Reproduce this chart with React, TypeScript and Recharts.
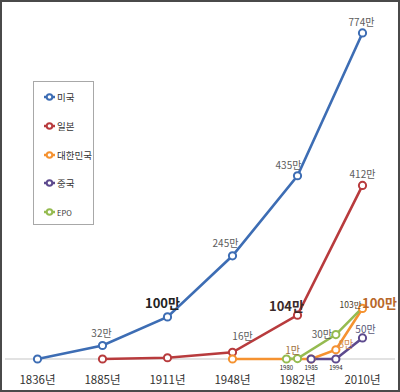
import { LineChart, Line, XAxis, YAxis, LabelList, CartesianGrid } from "recharts";

const years = ["1836년", "1885년", "1911년", "1948년", "1982년", "2010년"];

// x positions are category slots (0 = 1836 … 5 = 2010); in-between years sit at fractional slots
const usPos = [0, 1, 2, 3, 4, 5];
const usValues = [0, 32, 100, 245, 435, 774];
const usLabels = ["", "32만", "100만", "245만", "435만", "774만"];

const japanPos = [1, 2, 3, 4, 5];
const japanValues = [0, 3, 16, 104, 412];
const japanLabels = ["", "", "16만", "104만", "412만"];

const koreaPos = [3, 4.21, 4.59, 5];
const koreaValues = [0, 0, 22, 120];
const koreaLabels = ["", "", "8만", "100만"];

const epoPos = [3.83, 4, 4.59, 5];
const epoValues = [0, 1, 58, 122];
const epoLabels = ["", "1만", "30만", "103만"];
const epoSubYears = ["1980", "", "", ""];

const chinaPos = [4.21, 4.59, 5];
const chinaValues = [0, 0, 50];
const chinaLabels = ["", "", "50만"];
const chinaSubYears = ["1985", "1994", ""];

const FONT = '"Noto Sans CJK KR", "Noto Sans", sans-serif';

type Row = { x: number; v: number; label: string; sub: string };

const build = (pos: number[], vals: number[], labels: string[], subs?: string[]): Row[] =>
  pos.map((x, i) => ({ x, v: vals[i], label: labels[i], sub: subs ? subs[i] : "" }));

const series = [
  { key: "us", name: "미국", color: "#3d6db4", data: build(usPos, usValues, usLabels) },
  { key: "jp", name: "일본", color: "#b83b3d", data: build(japanPos, japanValues, japanLabels) },
  { key: "kr", name: "대한민국", color: "#f59230", data: build(koreaPos, koreaValues, koreaLabels) },
  { key: "epo", name: "EPO", color: "#95bb50", data: build(epoPos, epoValues, epoLabels, epoSubYears) },
  { key: "cn", name: "중국", color: "#5d4a8e", data: build(chinaPos, chinaValues, chinaLabels, chinaSubYears) },
];

// label placement / look, per series and point index
type LabelLook = { dx: number; dy: number; color: string; size: number; bold?: boolean };
const GRAY = "#5c5c5c";
const labelLooks: Record<string, (LabelLook | null)[]> = {
  us: [
    null,
    { dx: -1, dy: -13, color: GRAY, size: 10 },
    { dx: -5, dy: -14, color: "#222", size: 13, bold: true },
    { dx: -7, dy: -13, color: GRAY, size: 10 },
    { dx: -9, dy: -11, color: GRAY, size: 10 },
    { dx: -1, dy: -11, color: GRAY, size: 10 },
  ],
  jp: [
    null,
    null,
    { dx: 10, dy: -17, color: GRAY, size: 10 },
    { dx: -11, dy: -10, color: "#3a2a2a", size: 13, bold: true },
    { dx: 0, dy: -12, color: GRAY, size: 10 },
  ],
  kr: [
    null,
    null,
    { dx: 10, dy: -6, color: "#d08a4c", size: 10 },
    { dx: 17, dy: -6, color: "#b8682a", size: 13, bold: true },
  ],
  epo: [
    null,
    { dx: -5, dy: -9, color: "#9c7040", size: 10 },
    { dx: -14, dy: -1, color: GRAY, size: 10 },
    { dx: -12, dy: -4, color: "#4a3a2a", size: 8.5 },
  ],
  cn: [null, null, { dx: 3, dy: -9, color: "#5a5a78", size: 10 }],
};

function makeLabel(seriesKey: string) {
  return function PointLabel(props: any) {
    const { x, y, index, value } = props;
    const look = labelLooks[seriesKey][index];
    if (!look || !value) return null;
    return (
      <text
        x={x + look.dx}
        y={y + look.dy}
        textAnchor="middle"
        dominantBaseline="central"
        fill={look.color}
        fontSize={look.size}
        fontWeight={look.bold ? 700 : 400}
        fontFamily={FONT}
      >
        {value}
      </text>
    );
  };
}

function SubYear(props: any) {
  const { x, y, value } = props;
  if (!value) return null;
  return (
    <text x={x} y={y + 8} textAnchor="middle" dominantBaseline="central" fill="#222" fontSize={6} fontFamily={FONT}>
      {value}
    </text>
  );
}

function makeDot(color: string, hideIdx: number[] = []) {
  return function Dot(props: any) {
    const { cx, cy, index } = props;
    if (hideIdx.includes(index)) return <g key={index} />;
    return <circle key={index} cx={cx} cy={cy} r={3.6} stroke={color} strokeWidth={2} fill="#fff" />;
  };
}

function LegendBox() {
  const order = ["us", "jp", "kr", "cn", "epo"];
  return (
    <div
      style={{
        position: "absolute",
        left: 33,
        top: 81,
        width: 61,
        height: 144,
        border: "1px solid #a8a8a8",
        boxSizing: "border-box",
        background: "#fff",
        fontFamily: FONT,
      }}
    >
      {order.map((k, i) => {
        const s = series.find((d) => d.key === k)!;
        return (
          <div
            key={k}
            style={{
              position: "absolute",
              left: 10,
              top: 8 + i * 28.8,
              height: 14,
              display: "flex",
              alignItems: "center",
              whiteSpace: "nowrap",
              fontSize: k === "epo" ? 7.5 : 9.5,
              color: "#333",
            }}
          >
            <svg width={11} height={10} style={{ marginRight: 2, flexShrink: 0 }}>
              <line x1={0} y1={5} x2={11} y2={5} stroke={s.color} strokeWidth={2.5} />
              <circle cx={5.5} cy={5} r={2.8} stroke={s.color} strokeWidth={2} fill="#fff" />
            </svg>
            {s.name}
          </div>
        );
      })}
    </div>
  );
}

export default function App() {
  return (
    <div style={{ position: "fixed", left: 0, top: 0, width: 400, height: 392, background: "#fff" }}>
      <LineChart width={400} height={392} margin={{ top: 22, right: 5, left: 5, bottom: 0 }}>
        <CartesianGrid vertical={false} horizontalValues={[0]} stroke="#d9d9d9" strokeWidth={1.5} />
        <XAxis
          type="number"
          dataKey="x"
          domain={[-0.5, 5.5]}
          ticks={[0, 1, 2, 3, 4, 5]}
          tickFormatter={(v: number) => years[v]}
          allowDataOverflow
          height={33}
          tickLine={false}
          axisLine={false}
          tick={{ fill: "#333", fontSize: 11.5, fontFamily: FONT }}
          tickMargin={11}
        />
        <YAxis hide type="number" domain={[0, 800]} />
        {series.map((s) => (
          <Line
            key={s.key}
            data={s.data}
            dataKey="v"
            name={s.name}
            stroke={s.color}
            strokeWidth={2.6}
            dot={makeDot(s.color, s.key === "epo" ? [3] : [])}
            activeDot={false}
            isAnimationActive={false}
          >
            <LabelList dataKey="label" content={makeLabel(s.key)} />
            {s.key === "epo" || s.key === "cn" ? <LabelList dataKey="sub" content={SubYear} /> : null}
          </Line>
        ))}
      </LineChart>
      <LegendBox />
      <div
        style={{
          position: "absolute",
          inset: 0,
          border: "2px solid #4a4a4a",
          boxSizing: "border-box",
          pointerEvents: "none",
        }}
      />
    </div>
  );
}
